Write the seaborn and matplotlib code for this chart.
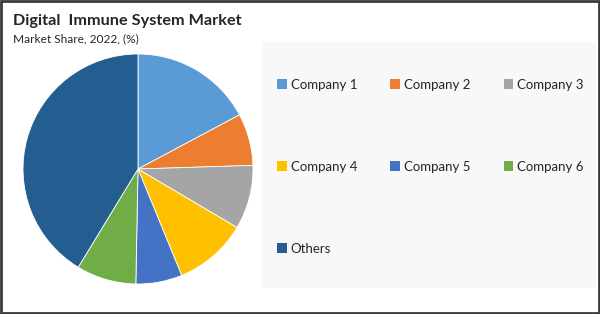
import matplotlib
matplotlib.use("Agg")
import matplotlib.pyplot as plt
from matplotlib.patches import Rectangle, Patch
import seaborn as sns

categories = ["Company 1", "Company 2", "Company 3", "Company 4", "Company 5", "Company 6", "Others"]
shares = [17.2, 7.3, 9.0, 10.3, 6.5, 8.4, 41.3]
colors = ["#5B9BD5", "#ED7D31", "#A5A5A5", "#FFC000", "#4472C4", "#70AD47", "#245E91"]

sns.set_theme(style="white")
plt.rcParams["font.family"] = ["Lato", "DejaVu Sans"]

fig = plt.figure(figsize=(6.0, 3.14), dpi=100)
fig.patch.set_facecolor("white")

# legend panel background
fig.patches.append(Rectangle((262/600, 26/314), 334/600, 246/314, transform=fig.transFigure,
                             facecolor="#f8f8f8", edgecolor="none", zorder=0))
# outer border
fig.patches.append(Rectangle((0.0015, 0.003), 0.996, 0.993, transform=fig.transFigure,
                             facecolor="none", edgecolor="#3a3a3a", linewidth=2, zorder=5))

ax = fig.add_axes([(138-115)/600, (314-169-115)/314, 230/600, 230/314])
ax.pie(shares, colors=colors, startangle=90, counterclock=False,
       wedgeprops=dict(edgecolor="white", linewidth=0.6))
ax.set_aspect("equal")
ax.set_xlim(-1.0, 1.0)
ax.set_ylim(-1.0, 1.0)
ax.axis("off")

fig.text(13/600, 1 - 24.5/314, "Digital  Immune System Market", fontsize=11.7, fontweight="bold",
         color="#262626", ha="left", va="baseline")
fig.text(13/600, 1 - 42/314, "Market Share, 2022, (%)", fontsize=8.6, color="#262626",
         ha="left", va="baseline")

handles = [Patch(facecolor=c, edgecolor="none") for c in colors]
# order legend entries row-wise (matplotlib fills columns first)
order = [0, 3, 6, 1, 4, 2, 5]
leg = fig.legend([handles[i] for i in order], [categories[i] for i in order],
                 ncol=3, loc="upper left", bbox_to_anchor=(265/600, 1 - 67/314),
                 frameon=False, fontsize=9.5, handlelength=0.75, handleheight=0.75,
                 handletextpad=0.3, columnspacing=2.5, labelspacing=5.3)
for t in leg.get_texts():
    t.set_color("#262626")

fig.savefig("out.png", dpi=100, facecolor="white")
